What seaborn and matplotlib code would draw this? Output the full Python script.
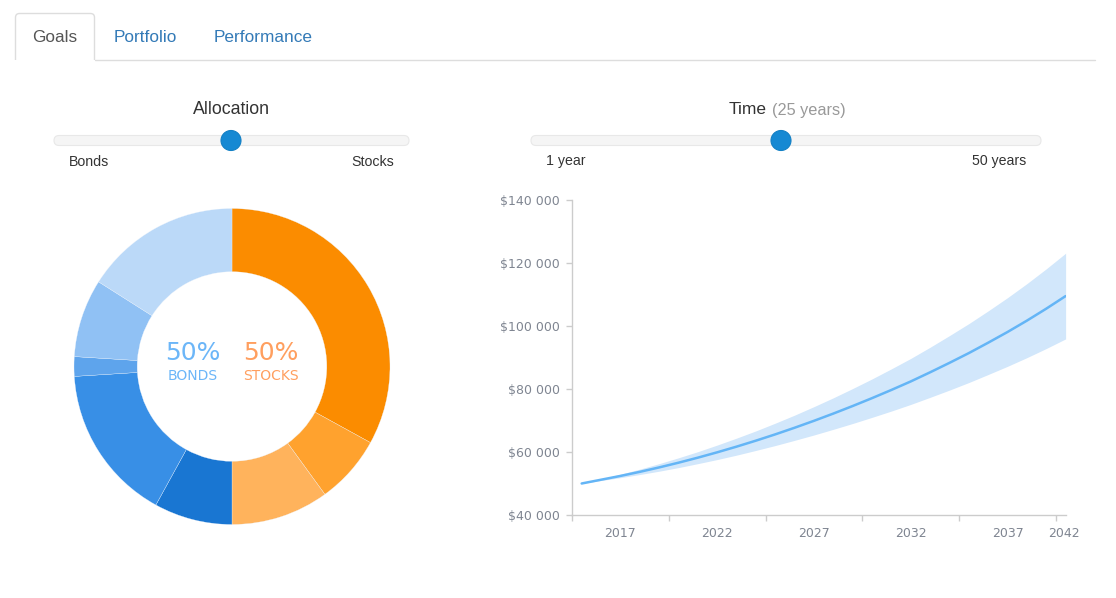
import matplotlib
matplotlib.use("Agg")
import numpy as np
import pandas as pd
import seaborn as sns
import matplotlib.pyplot as plt
from matplotlib.patches import FancyBboxPatch, Circle, Rectangle
from matplotlib.ticker import FuncFormatter

# ---------------- data ----------------
tabs = ["Goals", "Portfolio", "Performance"]

alloc_labels = ["Stocks A", "Stocks B", "Stocks C", "Bonds A", "Bonds B", "Bonds C", "Bonds D", "Bonds E"]
alloc_values = [33, 7, 10, 8, 16, 2, 8, 16]
alloc_colors = ["#fb8c00", "#ffa22e", "#ffb35c", "#1976d2", "#388fe6", "#5ea4ec", "#90c1f4", "#bbd9f8"]
bonds_pct = 50
stocks_pct = 50

years = list(range(2017, 2043))
median = [50000, 51200, 52400, 53700, 55100, 56600, 58200, 59900, 61700, 63600,
          65600, 67700, 69900, 72200, 74600, 77100, 79700, 82400, 85300, 88300,
          91400, 94700, 98100, 101700, 105500, 109500]
upper = [50000, 51450, 52950, 54550, 56300, 58150, 60100, 62200, 64400, 66700,
         69150, 71700, 74400, 77200, 80150, 83200, 86400, 89700, 93250, 96950,
         100750, 104800, 109000, 113450, 118150, 123100]
lower = [50000, 50950, 51850, 52850, 53900, 55050, 56300, 57600, 59000, 60500,
         62050, 63700, 65400, 67200, 69050, 71000, 73000, 75100, 77350, 79650,
         82050, 84600, 87200, 89950, 92850, 95900]
x_tick_labels = ["2017", "2022", "2027", "2032", "2037", "2042"]
y_ticks = [40000, 60000, 80000, 100000, 120000, 140000]

horizon_years = 25

# ---------------- figure ----------------
sns.set_theme(style="white")
plt.rcParams["font.family"] = ["DejaVu Sans"]

W, H = 1116, 598
fig = plt.figure(figsize=(W / 100, H / 100), dpi=100)
fig.patch.set_facecolor("white")

# overlay in pixel coordinates for the UI elements
ov = fig.add_axes([0, 0, 1, 1])
ov.set_xlim(0, W)
ov.set_ylim(H, 0)
ov.axis("off")

UI = ["Liberation Sans", "DejaVu Sans"]

# tabs
tab = FancyBboxPatch((15.5, 13.5), 79, 60, boxstyle="round,pad=0,rounding_size=4",
                     fc="white", ec="#dddddd", lw=1)
ov.add_patch(tab)
ov.add_patch(Rectangle((13, 60.2), 84, 20, fc="white", ec="none", zorder=3))
ov.plot([94.5, 1095], [59.5, 59.5], color="#dddddd", lw=1, zorder=4)
ov.text(54.5, 37.5, tabs[0], ha="center", va="center", fontsize=12.4, color="#555555", family=UI)
ov.text(145.5, 37.5, tabs[1], ha="center", va="center", fontsize=12.4, color="#337ab7", family=UI)
ov.text(263.5, 37.5, tabs[2], ha="center", va="center", fontsize=12.4, color="#337ab7", family=UI)

# sliders
def slider(x0, x1, knob):
    ov.add_patch(FancyBboxPatch((x0, 135.5), x1 - x0, 10, boxstyle="round,pad=0,rounding_size=5",
                                fc="#f5f5f5", ec="#e8e8e8", lw=0.8))
    ov.add_patch(Circle((knob, 140.5), 10, fc="#1689d3", ec="#1380c5", lw=0.8, zorder=5))

slider(54, 409, 231)
slider(531, 1041, 781)

ov.text(231.5, 110, "Allocation", ha="center", va="center", fontsize=12.8, color="#333333", family=UI)
ov.text(767, 114.5, "Time", ha="right", va="baseline", fontsize=12.5, color="#333333", family=UI)
ov.text(772, 114.5, f"({horizon_years} years)", ha="left", va="baseline", fontsize=11.7, color="#999999", family=UI)
ov.text(69, 161.5, "Bonds", ha="left", va="center", fontsize=10.2, color="#333333", family=UI)
ov.text(394, 161.5, "Stocks", ha="right", va="center", fontsize=10.2, color="#333333", family=UI)
ov.text(546, 161.5, "1 year", ha="left", va="center", fontsize=10.2, color="#333333", family=UI)
ov.text(1026, 161.5, "50 years", ha="right", va="center", fontsize=10.2, color="#333333", family=UI)

# ---------------- donut ----------------
cx, cy, R = 232, 366.5, 158
dax = fig.add_axes([(cx - R) / W, (H - cy - R) / H, 2 * R / W, 2 * R / H])
dax.pie(alloc_values, colors=alloc_colors, startangle=90, counterclock=False, radius=1,
        wedgeprops=dict(width=0.4, edgecolor="#eef5fd", linewidth=0.2))
dax.set_xlim(-1, 1)
dax.set_ylim(-1, 1)
dax.set_aspect("equal")
dax.axis("off")
ov.text(193, 353, f"{bonds_pct}%", ha="center", va="center", fontsize=18, color="#6cb6f8")
ov.text(193, 376, "BONDS", ha="center", va="center", fontsize=10, color="#6cb6f8")
ov.text(271, 353, f"{stocks_pct}%", ha="center", va="center", fontsize=18, color="#ff9f5f")
ov.text(271, 376, "STOCKS", ha="center", va="center", fontsize=10, color="#ff9f5f")

# ---------------- projection line ----------------
lx0, lx1, ly0, ly1 = 572, 1066, 200, 515
ax = fig.add_axes([lx0 / W, (H - ly1) / H, (lx1 - lx0) / W, (ly1 - ly0) / H])
df = pd.DataFrame({"year": years, "median": median, "upper": upper, "lower": lower})
df["xpos"] = df["year"] + 0.5
ax.fill_between(df["xpos"], df["lower"], df["upper"], color="#d2e7fb", lw=0)
sns.lineplot(data=df, x="xpos", y="median", ax=ax, color="#64b5f6", lw=1.8)
ax.set_xlim(2017, 2042.52)
ax.set_ylim(40000, 140000)
ax.set_xlabel("")
ax.set_ylabel("")
ax.set_facecolor("none")
for s in ["top", "right"]:
    ax.spines[s].set_visible(False)
for s in ["left", "bottom"]:
    ax.spines[s].set_color("#cccccc")
    ax.spines[s].set_linewidth(1)

ax.set_yticks(y_ticks)
ax.yaxis.set_major_formatter(FuncFormatter(lambda v, p: "$" + f"{int(v):,}".replace(",", " ")))
ax.tick_params(axis="y", left=True, length=4, width=1, color="#cccccc", labelsize=9,
               labelcolor="#7f8591", pad=5)

major = [int(t) for t in x_tick_labels]
ax.set_xticks(major)
ax.set_xticklabels([""] * len(major))
label_pos = [y + 2.5 for y in major[:-1]] + [major[-1] + 0.4]
ax.set_xticks(label_pos, minor=True)
ax.set_xticklabels(x_tick_labels, minor=True)
ax.tick_params(axis="x", which="major", bottom=True, length=4, width=1, color="#cccccc")
ax.tick_params(axis="x", which="minor", bottom=True, length=0, labelsize=9,
               labelcolor="#7f8591", pad=8.5)
ax.grid(False)

fig.savefig("out.png", dpi=100, facecolor="white")
